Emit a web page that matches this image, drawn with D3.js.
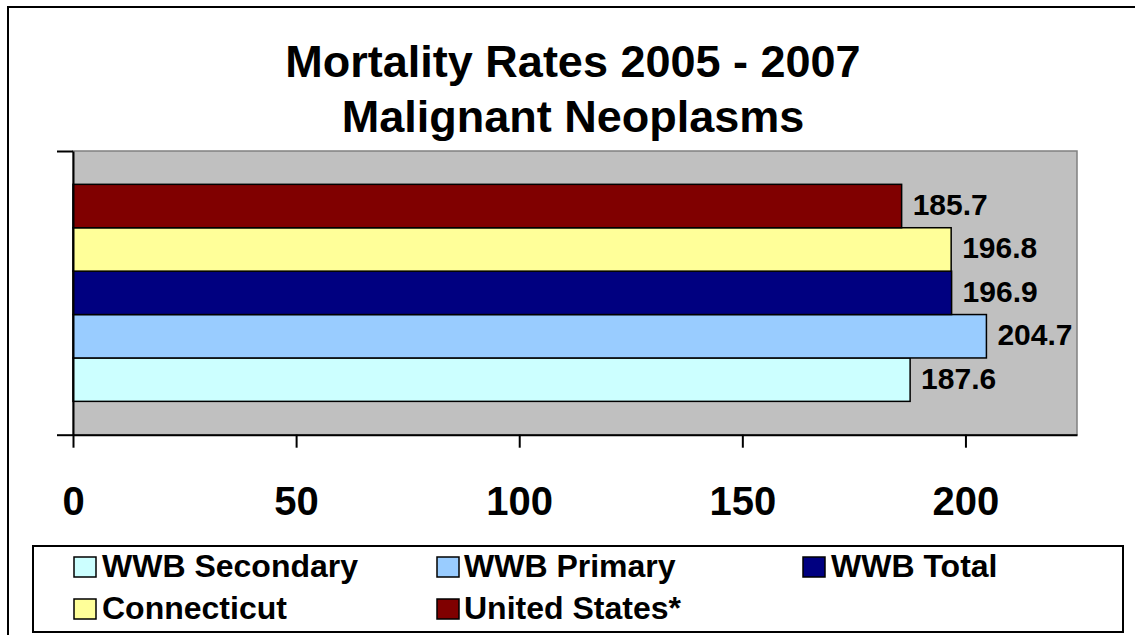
<!DOCTYPE html>
<html>
<head>
<meta charset="utf-8">
<script src="https://cdn.jsdelivr.net/npm/d3@7"></script>
<style>
  html, body { margin: 0; padding: 0; background: #fff; }
  svg { display: block; }
  text { font-family: "Liberation Sans", Arial, sans-serif; font-weight: bold; fill: #000; }
</style>
</head>
<body>
<svg id="chart" width="1135" height="635"></svg>
<script>
// ---- data ----
const titleLines = ["Mortality Rates 2005 - 2007", "Malignant Neoplasms"];
const seriesNames = ["WWB Secondary", "WWB Primary", "WWB Total", "Connecticut", "United States*"];
const seriesValues = [187.6, 204.7, 196.9, 196.8, 185.7];
const seriesColors = ["#CCFFFF", "#99CCFF", "#000080", "#FFFF99", "#800000"];
const xTickValues = [0, 50, 100, 150, 200];
const xMax = 225;

const svg = d3.select("#chart");
const W = 1135, H = 635;

// outer frame
svg.append("rect").attr("x", 8).attr("y", 7).attr("width", W + 10).attr("height", H + 10)
  .attr("fill", "#fff").attr("stroke", "#000").attr("stroke-width", 2);

// title
svg.selectAll("text.title").data(titleLines).enter().append("text")
  .attr("class", "title")
  .attr("x", 573).attr("y", (d, i) => 77 + i * 55)
  .attr("text-anchor", "middle").style("font-size", "45px")
  .text(d => d);

// plot area
const plot = { left: 73, right: 1077, top: 151, bottom: 434.7 };
const x = d3.scaleLinear().domain([0, xMax]).range([plot.left, plot.right]);
const order = seriesNames.slice().reverse(); // top to bottom
const y = d3.scaleBand().domain(order).range([plot.top, plot.bottom])
  .paddingInner(0).paddingOuter(0.768);

svg.append("rect")
  .attr("x", plot.left).attr("y", plot.top)
  .attr("width", plot.right - plot.left).attr("height", plot.bottom - plot.top)
  .attr("fill", "#C0C0C0").attr("stroke", "#808080").attr("stroke-width", 1.5);

const data = seriesNames.map((n, i) => ({ name: n, value: seriesValues[i], color: seriesColors[i] }));

svg.selectAll("rect.bar").data(data).enter().append("rect")
  .attr("class", "bar")
  .attr("x", x(0)).attr("y", d => y(d.name))
  .attr("width", d => x(d.value) - x(0)).attr("height", y.bandwidth())
  .attr("fill", d => d.color).attr("stroke", "#000").attr("stroke-width", 1.5);

svg.selectAll("text.lbl").data(data).enter().append("text")
  .attr("class", "lbl")
  .attr("x", d => x(d.value) + 11)
  .attr("y", d => y(d.name) + y.bandwidth() / 2 + 9)
  .style("font-size", "30px")
  .text(d => d.value.toFixed(1));

// x axis
const xAxis = svg.append("g").attr("transform", `translate(0,${plot.bottom})`)
  .call(d3.axisBottom(x).tickValues(xTickValues).tickSize(13).tickSizeOuter(0).tickFormat(d3.format("d")));
xAxis.select(".domain").attr("stroke", "#000").attr("stroke-width", 2);
xAxis.selectAll(".tick line").attr("stroke", "#000").attr("stroke-width", 2);
xAxis.selectAll(".tick text").attr("y", 515 - plot.bottom).attr("dy", 0)
  .style("font-size", "40px").style("font-family", "'Liberation Sans', Arial, sans-serif")
  .style("font-weight", "bold").attr("fill", "#000");

// y axis (category boundaries)
const yEdge = d3.scaleLinear().domain([0, 1]).range([plot.bottom, plot.top]);
const yAxis = svg.append("g").attr("transform", `translate(${plot.left},0)`)
  .call(d3.axisLeft(yEdge).tickValues([0, 1]).tickSize(16).tickSizeOuter(0).tickFormat(""));
yAxis.select(".domain").attr("stroke", "#000").attr("stroke-width", 2);
yAxis.selectAll(".tick line").attr("stroke", "#000").attr("stroke-width", 2);

// legend
svg.append("rect").attr("x", 33).attr("y", 546).attr("width", 1090).attr("height", 86)
  .attr("fill", "#fff").attr("stroke", "#000").attr("stroke-width", 2);

const legendPos = [
  { sx: 74, tx: 102, row: 0 },
  { sx: 437, tx: 464, row: 0 },
  { sx: 803, tx: 831, row: 0 },
  { sx: 74, tx: 102, row: 1 },
  { sx: 437, tx: 464, row: 1 }
];
const lg = svg.selectAll("g.leg").data(data).enter().append("g").attr("class", "leg");
lg.append("rect")
  .attr("x", (d, i) => legendPos[i].sx)
  .attr("y", (d, i) => 557 + legendPos[i].row * 42)
  .attr("width", 22).attr("height", 20)
  .attr("fill", d => d.color).attr("stroke", "#000").attr("stroke-width", 1.5);
lg.append("text")
  .attr("x", (d, i) => legendPos[i].tx)
  .attr("y", (d, i) => 577 + legendPos[i].row * 42)
  .style("font-size", "32px")
  .text(d => d.name);
</script>
</body>
</html>
